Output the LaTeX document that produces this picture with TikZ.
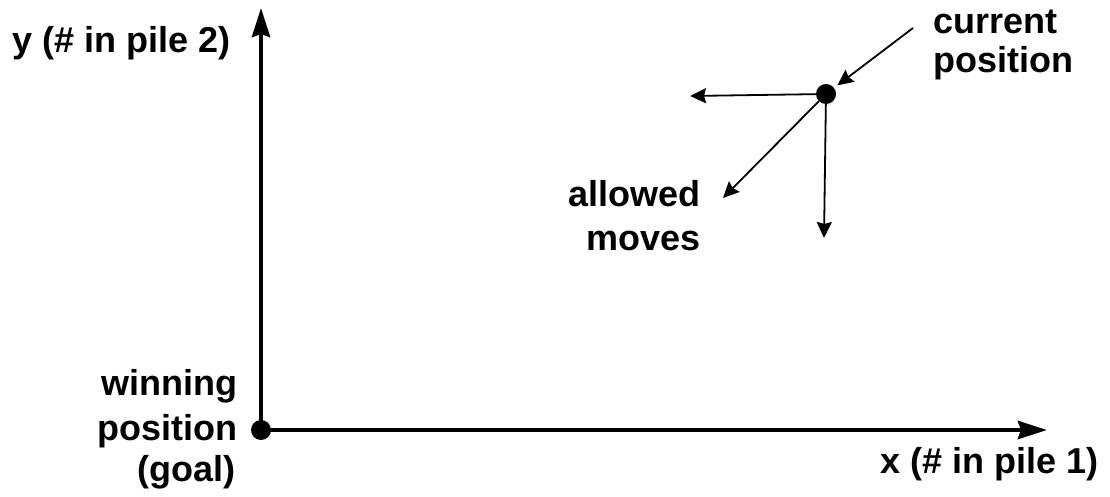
\documentclass[tikz,border=0pt]{standalone}
\usepackage{fontspec}
\setmainfont{Liberation Sans}
\usetikzlibrary{arrows.meta}
\begin{document}
\begin{tikzpicture}[x=1pt,y=-1pt,
  lbl/.style={inner sep=0pt, font=\fontsize{36}{42}\selectfont\bfseries},
  dot/.style={circle, fill=black, minimum size=20pt, inner sep=0pt},
  axis/.style={line width=4.5pt, -{Stealth[length=29pt,width=18pt,inset=3pt]}},
  move/.style={line width=1.8pt, -{Stealth[length=16pt,width=15pt,inset=2pt]}}]
\useasboundingbox (0,0) rectangle (1110,497);
\fill[white] (0,0) rectangle (1110,497);

% positions
\node[dot] (O) at (261,430) {};
\node[dot] (C) at (826,94) {};
\coordinate (ytip) at (261,8);
\coordinate (xtip) at (1047,430);
\coordinate (left) at (690,96);
\coordinate (down) at (824,238);
\coordinate (diag) at (723,198);
\coordinate (ptr) at (913,28);

% axes
\draw[axis] (O.center) -- (ytip);
\draw[axis] (O.center) -- (xtip);

% allowed moves from the current position
\draw[move] (C) -- (left);
\draw[move] (C) -- (down);
\draw[move] (C) -- (diag);
\draw[move, shorten >=4pt] (ptr) -- (C);

% labels
\node[lbl, anchor=base west] (ylab) at (12,53) {y (\# in pile 2)};
\node[lbl, anchor=base west] (xlab) at (880,473) {x (\# in pile 1)};
\node[lbl, anchor=base west] (cur1) at (933,34) {current};
\node[lbl, anchor=base west] (cur2) at (933,73) {position};
\node[lbl, anchor=base east] (alw1) at (701,207) {allowed};
\node[lbl, anchor=base east] (alw2) at (701,250) {moves};
\node[lbl, anchor=base east] (win1) at (238,395) {winning};
\node[lbl, anchor=base east] (win2) at (238,440) {position};
\node[lbl, anchor=base east] (win3) at (236,481) {(goal)};
\end{tikzpicture}
\end{document}
